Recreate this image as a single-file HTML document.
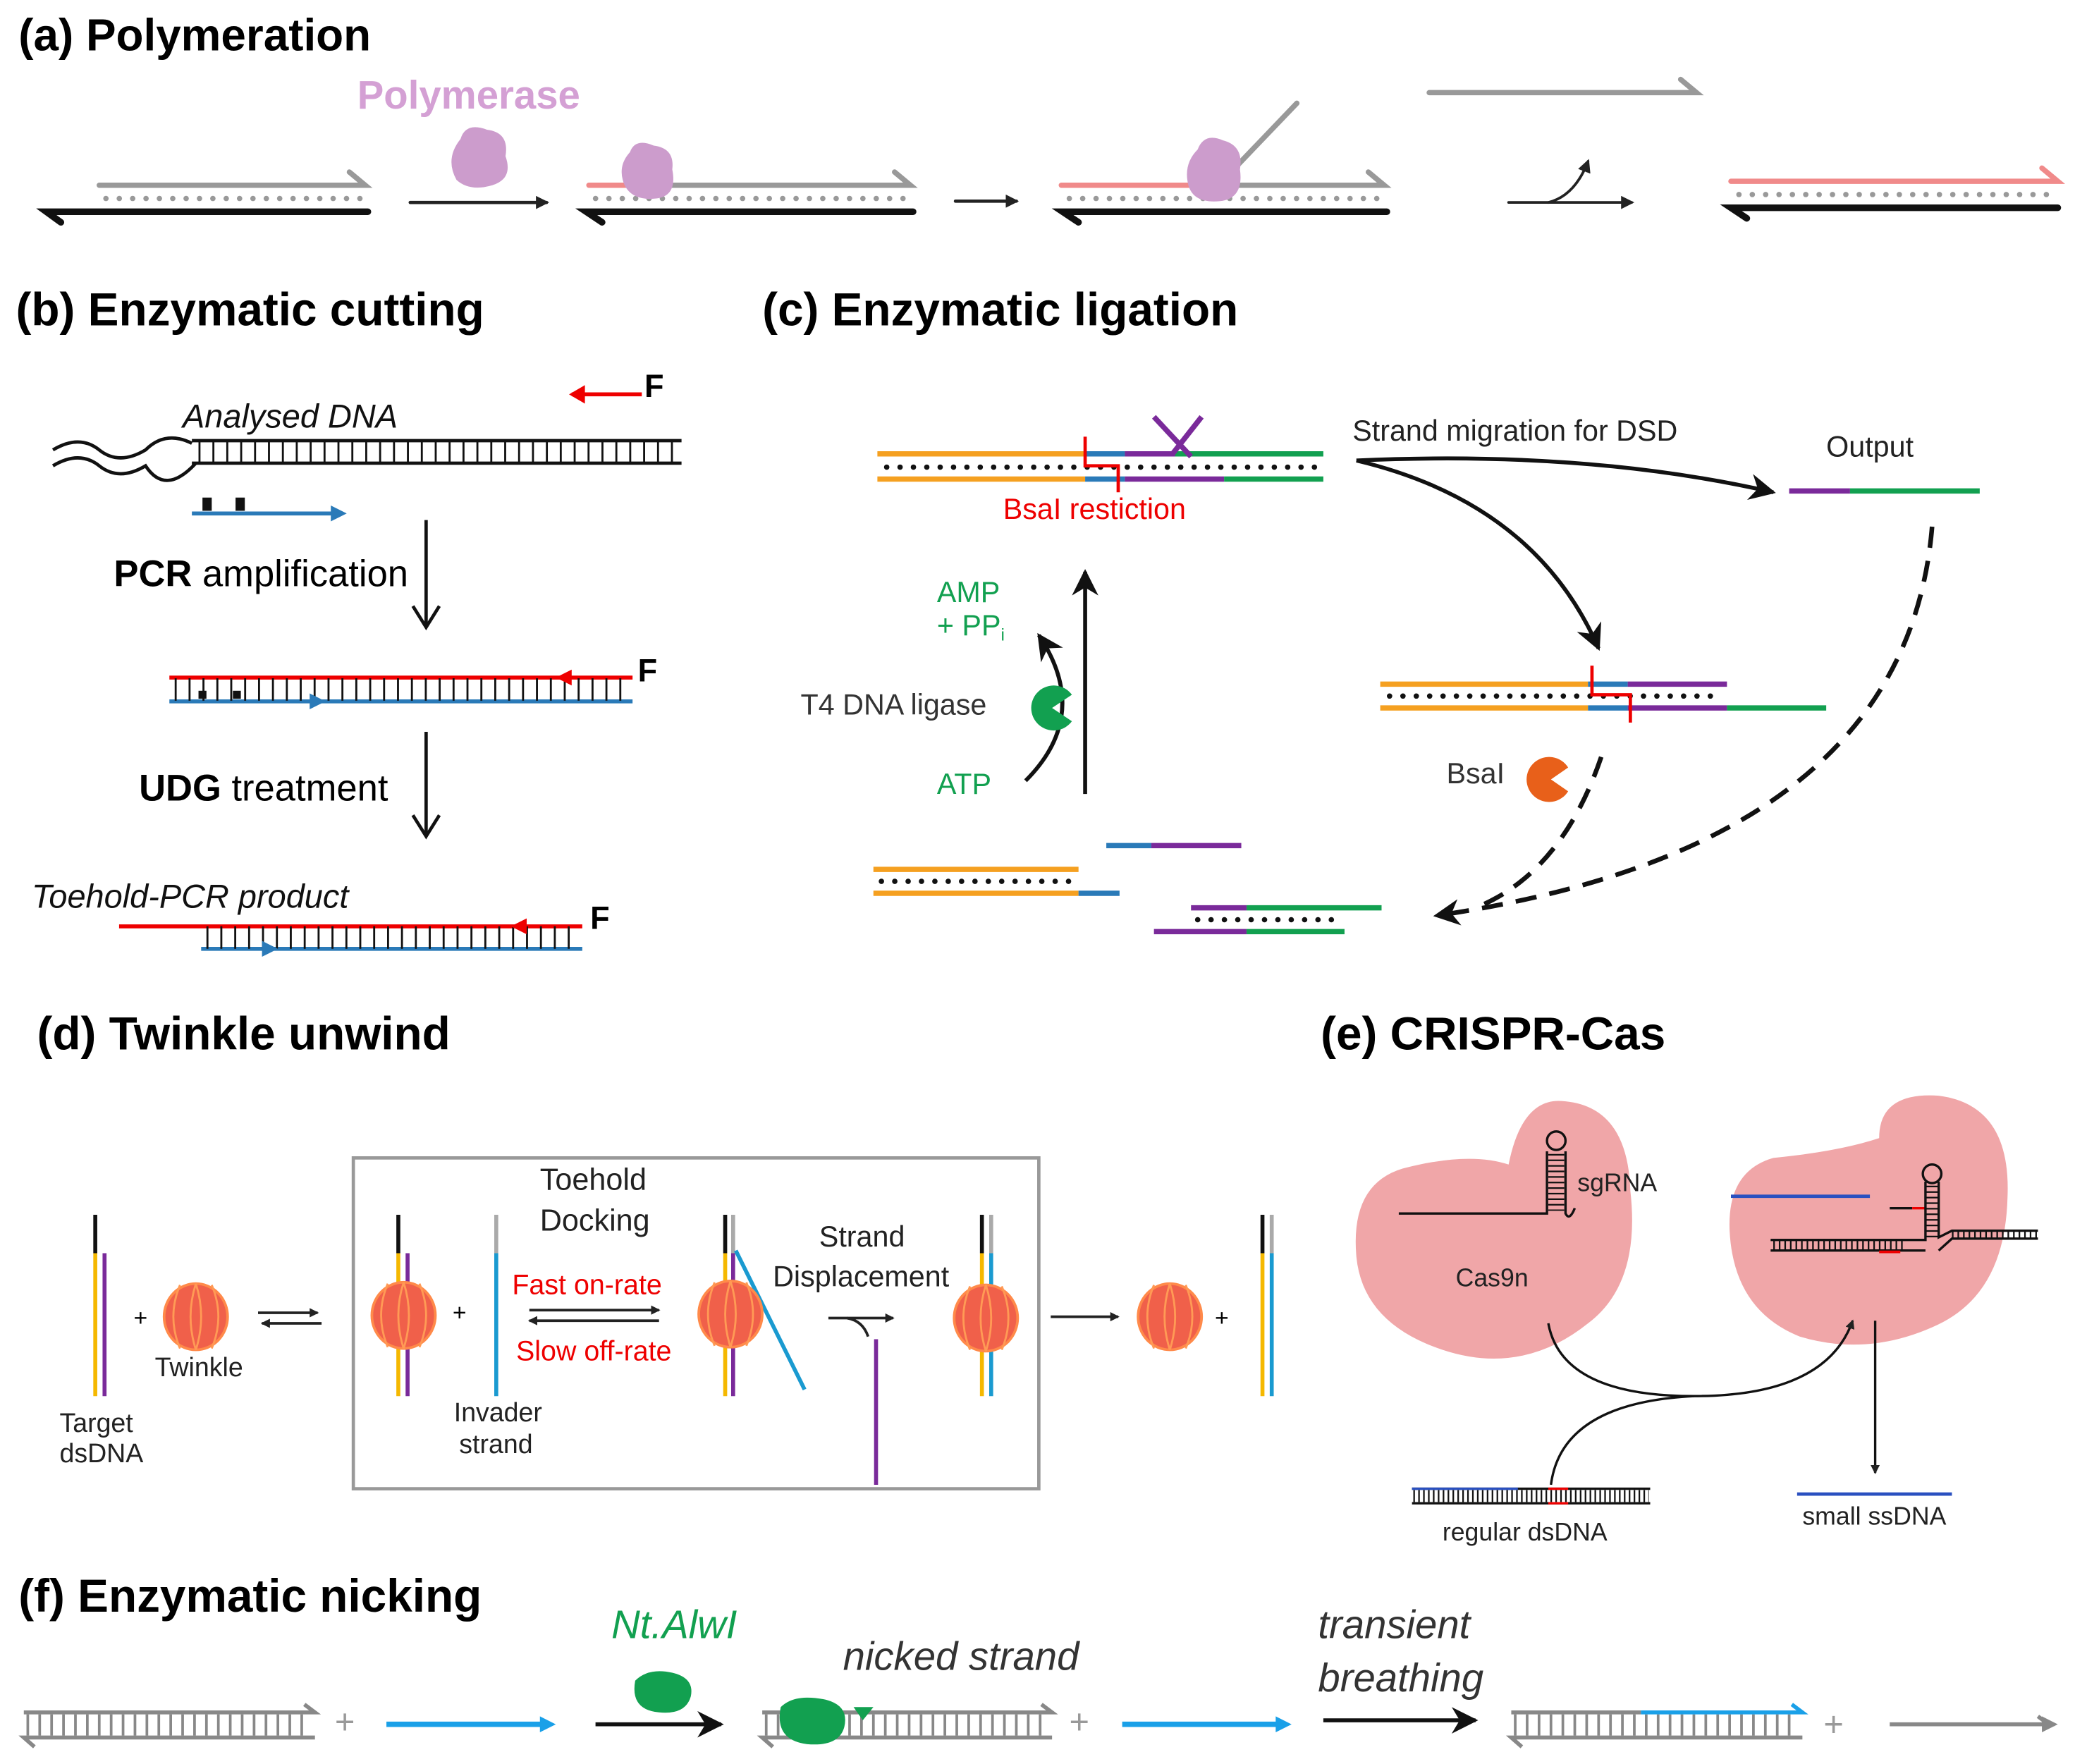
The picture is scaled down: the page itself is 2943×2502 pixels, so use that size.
<!DOCTYPE html>
<html><head><meta charset="utf-8"><style>
html,body{margin:0;padding:0;background:#fff;}
svg{display:block;}
text{font-family:"Liberation Sans",sans-serif;}
</style></head><body>
<svg width="2943" height="2502" viewBox="0 0 1568 1333" preserveAspectRatio="none" xmlns="http://www.w3.org/2000/svg">
<defs>
<marker id="ah" markerWidth="10" markerHeight="10" refX="8" refY="5" orient="auto" markerUnits="userSpaceOnUse"><path d="M0,0 L10,5 L0,10 Z" fill="#222"/></marker>
<marker id="ahb" markerWidth="22" markerHeight="20" refX="18" refY="10" orient="auto" markerUnits="userSpaceOnUse"><path d="M0,0 L20,10 L0,20 L6,10 Z" fill="#111"/></marker>
<marker id="ahs" markerWidth="7" markerHeight="7" refX="6" refY="3.5" orient="auto" markerUnits="userSpaceOnUse"><path d="M0,0 L7,3.5 L0,7 Z" fill="#222"/></marker>
<g id="tw"><ellipse cx="0" cy="0" rx="24" ry="25" fill="#f0604a" stroke="#ff8a4a" stroke-width="2"/><path d="M-12,-24 Q-22,0 -12,24 M0,-25 Q-8,0 0,25 M0,-25 Q8,0 0,25 M12,-24 Q22,0 12,24" stroke="#ff9a55" fill="none" stroke-width="1.5"/></g>
</defs>
<!-- (a) -->
<text x="14" y="38" font-size="34" font-weight="bold">(a) Polymeration</text>
<text x="270" y="82" font-size="30" font-weight="bold" fill="#d4a0d4">Polymerase</text>
<g fill="none" stroke-linecap="round">
<path d="M75,140 H276 L264,130" stroke="#999" stroke-width="4"/>
<line x1="80" y1="150" x2="272" y2="150" stroke="#999" stroke-width="4" stroke-dasharray="0.1 10"/>
<path d="M46,168 L35,160 H278" stroke="#111" stroke-width="5"/>
<line x1="310" y1="153" x2="413" y2="153" stroke="#222" stroke-width="2.5" marker-end="url(#ah)"/>
<path d="M490,140 H688 L676,130" stroke="#999" stroke-width="4"/>
<path d="M445,140 H490" stroke="#f08a8a" stroke-width="4"/>
<line x1="450" y1="150" x2="684" y2="150" stroke="#999" stroke-width="4" stroke-dasharray="0.1 10"/>
<path d="M455,168 L443,160 H690" stroke="#111" stroke-width="5"/>
<line x1="722" y1="152" x2="768" y2="152" stroke="#222" stroke-width="2.5" marker-end="url(#ah)"/>
<path d="M802,140 H915" stroke="#f08a8a" stroke-width="4"/>
<path d="M935,140 H1046 L1034,130" stroke="#999" stroke-width="4"/>
<line x1="935" y1="125" x2="980" y2="78" stroke="#999" stroke-width="4"/>
<line x1="808" y1="150" x2="1044" y2="150" stroke="#999" stroke-width="4" stroke-dasharray="0.1 10"/>
<path d="M815,168 L803,160 H1048" stroke="#111" stroke-width="5"/>
<path d="M1080,70 H1282 L1270,60" stroke="#999" stroke-width="4"/>
<line x1="1140" y1="153" x2="1233" y2="153" stroke="#222" stroke-width="2" marker-end="url(#ah)"/>
<path d="M1170,153 Q1190,148 1200,122" stroke="#222" stroke-width="2" marker-end="url(#ah)"/>
<path d="M1308,137 H1555 L1543,127" stroke="#f08a8a" stroke-width="4"/>
<line x1="1314" y1="147" x2="1550" y2="147" stroke="#999" stroke-width="4" stroke-dasharray="0.1 10"/>
<path d="M1320,165 L1308,157 H1555" stroke="#111" stroke-width="5"/>
</g>
<path d="M348,105 Q352,92 368,98 Q385,100 382,118 Q388,135 372,140 Q355,145 345,136 Q336,120 348,105Z" fill="#cc9ccc"/>
<path d="M476,115 Q480,104 494,110 Q510,112 508,128 Q512,148 496,150 Q478,152 472,140 Q466,126 476,115Z" fill="#cc9ccc"/>
<path d="M905,113 Q910,100 924,106 Q940,110 937,128 Q940,150 922,152 Q902,154 898,140 Q894,124 905,113Z" fill="#cc9ccc"/>

<!-- (b) -->
<text x="12" y="246" font-size="35" font-weight="bold">(b) Enzymatic cutting</text>
<text x="138" y="323" font-size="25" font-style="italic" fill="#111">Analysed DNA</text>
<g fill="none">
<path d="M40,340 Q60,328 75,340 T110,340 Q125,325 145,335 M40,352 Q60,340 75,352 T110,352 Q125,375 148,350" stroke="#111" stroke-width="2.5"/>
<line x1="145" y1="333" x2="515" y2="333" stroke="#111" stroke-width="2.5"/>
<line x1="145" y1="350" x2="515" y2="350" stroke="#111" stroke-width="2.5"/>
<line x1="150" y1="341.5" x2="512" y2="341.5" stroke="#111" stroke-width="17" stroke-dasharray="1.5 9"/>
<line x1="485" y1="298" x2="432" y2="298" stroke="#e00" stroke-width="3"/><path d="M430,298 L442,291 L442,305Z" fill="#e00"/>
<line x1="145" y1="388" x2="258" y2="388" stroke="#2a7ab8" stroke-width="3"/><path d="M262,388 L250,382 L250,394Z" fill="#2a7ab8"/>
<line x1="322" y1="393" x2="322" y2="472" stroke="#111" stroke-width="2.5"/><path d="M312,458 L322,474 L332,458" stroke="#111" stroke-width="2.5"/>
<line x1="322" y1="553" x2="322" y2="630" stroke="#111" stroke-width="2.5"/><path d="M312,616 L322,632 L332,616" stroke="#111" stroke-width="2.5"/>
<line x1="128" y1="512" x2="478" y2="512" stroke="#e00" stroke-width="3"/>
<line x1="128" y1="530" x2="478" y2="530" stroke="#2a7ab8" stroke-width="3"/>
<line x1="132" y1="521" x2="476" y2="521" stroke="#111" stroke-width="17" stroke-dasharray="1.5 9"/>
<line x1="90" y1="700" x2="440" y2="700" stroke="#e00" stroke-width="3"/>
<line x1="152" y1="717" x2="440" y2="717" stroke="#2a7ab8" stroke-width="3"/>
<line x1="156" y1="708.5" x2="438" y2="708.5" stroke="#111" stroke-width="17" stroke-dasharray="1.5 9"/>
</g>
<rect x="153" y="376" width="7" height="10" fill="#111"/><rect x="178" y="376" width="7" height="10" fill="#111"/>
<rect x="150" y="522" width="6" height="6" fill="#111"/><rect x="176" y="522" width="6" height="6" fill="#111"/>
<path d="M420,512 L432,506 L432,518Z" fill="#e00"/><path d="M246,530 L234,524 L234,536Z" fill="#2a7ab8"/>
<path d="M386,700 L398,694 L398,706Z" fill="#e00"/><path d="M210,717 L198,711 L198,723Z" fill="#2a7ab8"/>
<text x="487" y="300" font-size="24" font-weight="bold">F</text>
<text x="482" y="515" font-size="24" font-weight="bold">F</text>
<text x="446" y="702" font-size="24" font-weight="bold">F</text>
<text x="86" y="443" font-size="28"><tspan font-weight="bold">PCR</tspan> amplification</text>
<text x="105" y="605" font-size="28"><tspan font-weight="bold">UDG</tspan> treatment</text>
<text x="24" y="686" font-size="25" font-style="italic" fill="#111">Toehold-PCR product</text>

<!-- (c) -->
<text x="576" y="246" font-size="35" font-weight="bold">(c) Enzymatic ligation</text>
<g fill="none" stroke-width="4">
<line x1="663" y1="343" x2="820" y2="343" stroke="#f5a020"/>
<line x1="820" y1="343" x2="850" y2="343" stroke="#2a7ab8"/>
<line x1="850" y1="343" x2="1000" y2="343" stroke="#12a050"/>
<line x1="663" y1="362" x2="820" y2="362" stroke="#f5a020"/>
<line x1="820" y1="362" x2="850" y2="362" stroke="#2a7ab8"/>
<line x1="850" y1="362" x2="925" y2="362" stroke="#7a2a9a"/>
<line x1="925" y1="362" x2="1000" y2="362" stroke="#12a050"/>
<line x1="670" y1="353" x2="995" y2="353" stroke="#111" stroke-width="4" stroke-dasharray="0.1 10" stroke-linecap="round"/>
<path d="M850,343 H888 M872,315 L900,345 M908,315 L886,343" stroke="#7a2a9a"/>
<path d="M820,330 V352 H845 V372" stroke="#e00" stroke-width="2.5"/>
<path d="M1025,348 Q1200,340 1340,372" stroke="#111" stroke-width="3" marker-end="url(#ahb)"/>
<path d="M1025,348 Q1160,380 1208,490" stroke="#111" stroke-width="3" marker-end="url(#ahb)"/>
<line x1="1352" y1="371" x2="1398" y2="371" stroke="#7a2a9a"/>
<line x1="1398" y1="371" x2="1496" y2="371" stroke="#12a050"/>
<line x1="1043" y1="517" x2="1200" y2="517" stroke="#f5a020"/>
<line x1="1200" y1="517" x2="1230" y2="517" stroke="#2a7ab8"/>
<line x1="1230" y1="517" x2="1305" y2="517" stroke="#7a2a9a"/>
<line x1="1043" y1="535" x2="1200" y2="535" stroke="#f5a020"/>
<line x1="1200" y1="535" x2="1230" y2="535" stroke="#2a7ab8"/>
<line x1="1230" y1="535" x2="1305" y2="535" stroke="#7a2a9a"/>
<line x1="1305" y1="535" x2="1380" y2="535" stroke="#12a050"/>
<line x1="1050" y1="526" x2="1300" y2="526" stroke="#111" stroke-dasharray="0.1 10" stroke-linecap="round"/>
<path d="M1203,503 V525 H1232 V546" stroke="#e00" stroke-width="2.5"/>
<line x1="660" y1="657" x2="815" y2="657" stroke="#f5a020"/>
<line x1="660" y1="675" x2="815" y2="675" stroke="#f5a020"/>
<line x1="815" y1="675" x2="846" y2="675" stroke="#2a7ab8"/>
<line x1="666" y1="666" x2="810" y2="666" stroke="#111" stroke-dasharray="0.1 10" stroke-linecap="round"/>
<line x1="836" y1="639" x2="870" y2="639" stroke="#2a7ab8"/>
<line x1="870" y1="639" x2="938" y2="639" stroke="#7a2a9a"/>
<line x1="900" y1="686" x2="942" y2="686" stroke="#7a2a9a"/>
<line x1="942" y1="686" x2="1044" y2="686" stroke="#12a050"/>
<line x1="872" y1="704" x2="942" y2="704" stroke="#7a2a9a"/>
<line x1="942" y1="704" x2="1016" y2="704" stroke="#12a050"/>
<line x1="905" y1="695" x2="1010" y2="695" stroke="#111" stroke-dasharray="0.1 10" stroke-linecap="round"/>
<path d="M1460,398 Q1440,640 1085,692" stroke="#111" stroke-width="3.5" stroke-dasharray="16 10" marker-end="url(#ahb)"/>
<path d="M1210,572 Q1180,660 1115,686" stroke="#111" stroke-width="3.5" stroke-dasharray="16 10"/>
<line x1="820" y1="600" x2="820" y2="432" stroke="#111" stroke-width="3" marker-end="url(#ahb)"/>
<path d="M775,590 Q825,540 785,480" stroke="#111" stroke-width="3" marker-end="url(#ahb)"/>
</g>
<text x="758" y="392" font-size="22" fill="#e00">BsaI restiction</text>
<text x="1022" y="333" font-size="22" fill="#222">Strand migration for DSD</text>
<text x="1380" y="345" font-size="22" fill="#222">Output</text>
<text x="708" y="455" font-size="22" fill="#12a050">AMP</text>
<text x="708" y="480" font-size="22" fill="#12a050">+ PP<tspan font-size="13" dy="4">i</tspan></text>
<text x="605" y="540" font-size="22" fill="#333">T4 DNA ligase</text>
<text x="708" y="600" font-size="22" fill="#12a050">ATP</text>
<text x="1093" y="592" font-size="22" fill="#333">BsaI</text>
<path d="M810,525 A17,17 0 1 0 810,545 L795,535 Z" fill="#12a050"/>
<path d="M1185,580 A17,17 0 1 0 1185,598 L1172,589 Z" fill="#e8601a"/>

<!-- (d) -->
<text x="28" y="793" font-size="35" font-weight="bold">(d) Twinkle unwind</text>
<rect x="267" y="875" width="518" height="250" fill="none" stroke="#999" stroke-width="2.5"/>
<g fill="none" stroke-width="3">
<line x1="72" y1="918" x2="72" y2="947" stroke="#111"/><line x1="72" y1="947" x2="72" y2="1055" stroke="#f5b800"/><line x1="79" y1="947" x2="79" y2="1055" stroke="#7a2a9a"/>
<line x1="301" y1="918" x2="301" y2="947" stroke="#111"/><line x1="301" y1="947" x2="301" y2="1055" stroke="#f5b800"/><line x1="308" y1="947" x2="308" y2="1055" stroke="#7a2a9a"/>
<line x1="375" y1="918" x2="375" y2="947" stroke="#aaa"/><line x1="375" y1="947" x2="375" y2="1055" stroke="#1a9ad0"/>
<line x1="548" y1="918" x2="548" y2="947" stroke="#111"/><line x1="548" y1="947" x2="548" y2="1055" stroke="#f5b800"/><line x1="554" y1="918" x2="554" y2="947" stroke="#aaa"/><line x1="554" y1="947" x2="554" y2="1055" stroke="#7a2a9a"/>
<line x1="556" y1="945" x2="608" y2="1050" stroke="#1a9ad0"/>
<line x1="662" y1="1012" x2="662" y2="1122" stroke="#7a2a9a"/>
<line x1="742" y1="918" x2="742" y2="947" stroke="#111"/><line x1="742" y1="947" x2="742" y2="1055" stroke="#f5b800"/><line x1="749" y1="918" x2="749" y2="947" stroke="#aaa"/><line x1="749" y1="947" x2="749" y2="1055" stroke="#1a9ad0"/>
<line x1="954" y1="918" x2="954" y2="947" stroke="#111"/><line x1="954" y1="947" x2="954" y2="1055" stroke="#f5b800"/><line x1="961" y1="918" x2="961" y2="947" stroke="#aaa"/><line x1="961" y1="947" x2="961" y2="1055" stroke="#1a9ad0"/>
<g stroke="#222" stroke-width="2">
<line x1="195" y1="992" x2="240" y2="992" marker-end="url(#ahs)"/><line x1="243" y1="1000" x2="198" y2="1000" marker-end="url(#ahs)"/>
<line x1="400" y1="990" x2="498" y2="990" marker-end="url(#ahs)"/><line x1="498" y1="998" x2="400" y2="998" marker-end="url(#ahs)"/>
<line x1="626" y1="996" x2="675" y2="996" marker-end="url(#ahs)"/><path d="M640,996 Q652,998 656,1010"/>
<line x1="794" y1="995" x2="845" y2="995" marker-end="url(#ahs)"/>
</g>
</g>
<use href="#tw" x="148" y="995"/><use href="#tw" x="305" y="994"/><use href="#tw" x="552" y="993"/><use href="#tw" x="745" y="996"/><use href="#tw" x="884" y="995"/>
<text x="101" y="1002" font-size="18">+</text><text x="342" y="998" font-size="18">+</text><text x="918" y="1002" font-size="18">+</text>
<g font-size="20" fill="#222">
<text x="117" y="1040">Twinkle</text>
<text x="45" y="1082">Target</text><text x="45" y="1105">dsDNA</text>
<text x="343" y="1074">Invader</text><text x="347" y="1098">strand</text>
<text x="408" y="899" font-size="23">Toehold</text><text x="408" y="930" font-size="23">Docking</text>
<text x="619" y="942" font-size="22">Strand</text><text x="584" y="972" font-size="22">Displacement</text>
</g>
<text x="387" y="978" font-size="21" fill="#e00">Fast on-rate</text>
<text x="390" y="1028" font-size="21" fill="#e00">Slow off-rate</text>

<!-- (e) -->
<text x="998" y="793" font-size="35" font-weight="bold">(e) CRISPR-Cas</text>
<path d="M1060,883 Q1110,870 1140,880 Q1150,830 1180,832 Q1230,835 1232,900 Q1240,970 1200,1000 Q1150,1040 1090,1020 Q1030,1000 1025,950 Q1020,895 1060,883Z" fill="#f0a6a8"/>
<path d="M1340,875 Q1390,870 1420,860 Q1420,825 1465,828 Q1520,835 1517,905 Q1515,980 1460,1003 Q1410,1025 1360,1010 Q1310,990 1307,930 Q1305,885 1340,875Z" fill="#f0a6a8"/>
<g fill="none" stroke="#111" stroke-width="1.8">
<path d="M1057,917 H1169 V870 M1183,870 V917 Q1186,923 1190,913"/>
<circle cx="1176" cy="862" r="7"/>
<line x1="1176" y1="872" x2="1176" y2="915" stroke-width="12" stroke-dasharray="1.2 3"/>
<line x1="1308" y1="904" x2="1413" y2="904" stroke="#2a50c0" stroke-width="2.5"/>
<line x1="1428" y1="913" x2="1445" y2="913"/><line x1="1445" y1="913" x2="1455" y2="913" stroke="#e00"/>
<circle cx="1460" cy="887" r="7"/>
<line x1="1460" y1="896" x2="1460" y2="935" stroke-width="10" stroke-dasharray="1.2 3"/>
<path d="M1455,893 V937 H1338 M1465,893 V935 L1475,930 H1540 M1338,945 H1420 L1455,945 M1465,945 L1475,936 H1540"/>
<line x1="1340" y1="941" x2="1440" y2="941" stroke-width="8" stroke-dasharray="1.2 3"/>
<line x1="1475" y1="933" x2="1540" y2="933" stroke-width="6" stroke-dasharray="1.2 3"/>
<line x1="1420" y1="946" x2="1436" y2="946" stroke="#e00" stroke-width="2"/>
<path d="M1170,1000 Q1180,1055 1280,1055 Q1380,1055 1400,998" marker-end="url(#ahs)"/>
<path d="M1280,1055 Q1180,1060 1172,1122"/>
<line x1="1417" y1="998" x2="1417" y2="1113" marker-end="url(#ahs)"/>
<line x1="1067" y1="1125" x2="1247" y2="1125"/><line x1="1067" y1="1136" x2="1247" y2="1136"/>
<line x1="1068" y1="1130.5" x2="1246" y2="1130.5" stroke-width="9" stroke-dasharray="1.2 2.5"/>
<line x1="1067" y1="1125" x2="1147" y2="1125" stroke="#2a50c0"/>
<line x1="1170" y1="1125" x2="1185" y2="1125" stroke="#e00"/><line x1="1170" y1="1136" x2="1185" y2="1136" stroke="#e00"/>
<line x1="1358" y1="1129" x2="1475" y2="1129" stroke="#2a50c0" stroke-width="2.5"/>
</g>
<g font-size="19" fill="#222">
<text x="1192" y="900">sgRNA</text><text x="1100" y="972">Cas9n</text>
<text x="1090" y="1164">regular dsDNA</text><text x="1362" y="1152">small ssDNA</text>
</g>

<!-- (f) -->
<text x="14" y="1218" font-size="35" font-weight="bold">(f)  Enzymatic nicking</text>
<text x="462" y="1238" font-size="30" font-style="italic" fill="#12a050">Nt.AlwI</text>
<text x="637" y="1262" font-size="30" font-style="italic" fill="#333">nicked strand</text>
<text x="996" y="1238" font-size="30" font-style="italic" fill="#333">transient</text>
<text x="996" y="1278" font-size="30" font-style="italic" fill="#333">breathing</text>
<g fill="none" stroke="#888" stroke-width="3">
<path d="M18,1294 H238 L230,1288"/><path d="M26,1320 L18,1313 H238"/>
<line x1="20" y1="1303.5" x2="236" y2="1303.5" stroke-width="16" stroke-dasharray="2 7"/>
<path d="M576,1294 H795 L787,1288"/><path d="M584,1320 L576,1313 H795"/>
<line x1="578" y1="1303.5" x2="793" y2="1303.5" stroke-width="16" stroke-dasharray="2 7"/>
<path d="M1142,1294 H1240"/><path d="M1150,1320 L1142,1313 H1362"/>
<line x1="1144" y1="1303.5" x2="1360" y2="1303.5" stroke-width="16" stroke-dasharray="2 7"/>
<path d="M1240,1294 H1362 L1354,1288" stroke="#1aa0e8"/>
<path d="M1428,1303 H1548 L1540,1297"/>
<line x1="292" y1="1303" x2="412" y2="1303" stroke="#1aa0e8" stroke-width="4"/>
<line x1="848" y1="1303" x2="968" y2="1303" stroke="#1aa0e8" stroke-width="4"/>
<line x1="450" y1="1303" x2="545" y2="1303" stroke="#111" marker-end="url(#ahb)"/>
<line x1="1000" y1="1300" x2="1115" y2="1300" stroke="#111" marker-end="url(#ahb)"/>
</g>
<path d="M420,1303 L408,1297 L408,1309Z M976,1303 L964,1297 L964,1309Z" fill="#1aa0e8"/>
<path d="M1555,1303 L1543,1297 L1543,1309Z" fill="#888"/>
<text x="253" y="1310" font-size="26" fill="#999">+</text><text x="808" y="1310" font-size="26" fill="#999">+</text><text x="1378" y="1312" font-size="26" fill="#999">+</text>
<path d="M480,1270 Q490,1260 508,1264 Q525,1268 522,1282 Q518,1296 498,1294 Q476,1292 480,1270Z" fill="#12a050"/>
<path d="M590,1290 Q600,1280 622,1284 Q642,1288 638,1305 Q634,1320 610,1318 Q585,1315 590,1290Z" fill="#12a050"/>
<path d="M645,1290 L660,1290 L652,1300Z" fill="#12a050"/>
</svg>
</body></html>
